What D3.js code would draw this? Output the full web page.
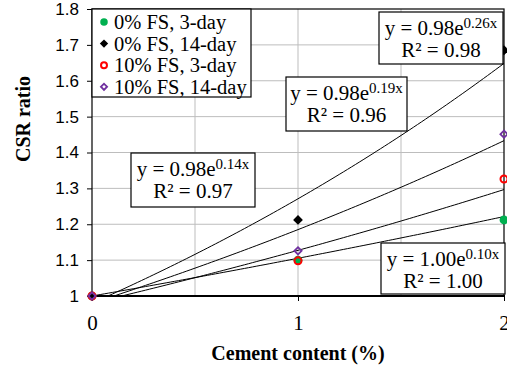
<!DOCTYPE html>
<html>
<head>
<meta charset="utf-8">
<script src="https://cdn.jsdelivr.net/npm/d3@7"></script>
<style>
  html, body { margin: 0; padding: 0; background: #fff; }
  svg { display: block; }
  .serif { font-family: "Liberation Serif", "Times New Roman", Times, "Noto Serif", "DejaVu Serif", serif; }
  .sans { font-family: "Liberation Sans", Arial, Helvetica, sans-serif; }
</style>
</head>
<body>
<svg id="chart" width="507" height="366"></svg>
<script>
// Cement content (%) on the x axis
const cement = [0, 1, 2];

// CSR ratio for each mix / curing time
const seriesNames = ["0% FS, 3-day", "0% FS, 14-day", "10% FS, 3-day", "10% FS, 14-day"];
const fs0_3day  = [1.00, 1.100, 1.212];
const fs0_14day = [1.00, 1.212, 1.685];
const fs10_3day = [1.00, 1.098, 1.326];
const fs10_14day = [1.00, 1.126, 1.451];

// Exponential trendlines y = a·e^(b·x), with the labels printed on the chart
const trendA  = [1.00, 0.98, 0.98, 0.98];
const trendB  = [0.10, 0.26, 0.14, 0.19];
const trendR2 = ["1.00", "0.98", "0.97", "0.96"];

const yTicks = [1, 1.1, 1.2, 1.3, 1.4, 1.5, 1.6, 1.7, 1.8];
const xTicks = [0, 1, 2];
const xGrid = [0.5, 1, 1.5];

const seriesValues = [fs0_3day, fs0_14day, fs10_3day, fs10_14day];

const svg = d3.select("#chart");
const plotL = 92, plotR = 504, plotT = 9, plotB = 296;

const x = d3.scaleLinear().domain([0, 2]).range([plotL, plotR]);
const y = d3.scaleLinear().domain([1, 1.8]).range([plotB, plotT]);

// gridlines
svg.append("g").selectAll("line").data(yTicks.slice(1, -1)).join("line")
  .attr("x1", plotL).attr("x2", plotR)
  .attr("y1", d => y(d)).attr("y2", d => y(d))
  .attr("stroke", "#bdbdbd").attr("stroke-width", 1);
svg.append("g").selectAll("line").data(xGrid).join("line")
  .attr("x1", d => x(d)).attr("x2", d => x(d))
  .attr("y1", plotT).attr("y2", plotB)
  .attr("stroke", "#bdbdbd").attr("stroke-width", 1);

// axes
const yAxis = d3.axisLeft(y).tickValues(yTicks).tickSize(5).tickPadding(8)
  .tickFormat(d => d === 1 ? "1" : d3.format(".1f")(d));
const gy = svg.append("g").attr("transform", `translate(${plotL},0)`).call(yAxis);
gy.attr("font-family", null).attr("font-size", null);
gy.select(".domain").remove();
gy.selectAll("line").attr("stroke", "#000");
gy.selectAll("text").attr("class", "sans").style("font-size", "17px").attr("fill", "#000");

const xAxis = d3.axisBottom(x).tickValues(xTicks).tickSize(5).tickPadding(14)
  .tickFormat(d3.format("d"));
const gx = svg.append("g").attr("transform", `translate(0,${plotB})`).call(xAxis);
gx.attr("font-family", null).attr("font-size", null);
gx.select(".domain").remove();
gx.selectAll("line").attr("stroke", "#000");
gx.selectAll("text").attr("class", "serif").style("font-size", "21px").attr("fill", "#000");

// plot area frame
svg.append("rect").attr("x", plotL).attr("y", plotT)
  .attr("width", plotR - plotL).attr("height", plotB - plotT)
  .attr("fill", "none").attr("stroke", "#000").attr("stroke-width", 1.2);
svg.append("line").attr("x1", plotL).attr("x2", plotR + 1)
  .attr("y1", plotB).attr("y2", plotB).attr("stroke", "#000").attr("stroke-width", 2);

// trendlines, clipped to the plot area
svg.append("clipPath").attr("id", "plotclip").append("rect")
  .attr("x", plotL).attr("y", plotT).attr("width", plotR - plotL).attr("height", plotB - plotT);
const xs = d3.range(0, 2.0001, 0.02);
const line = d3.line().x(d => x(d[0])).y(d => y(d[1]));
const trendG = svg.append("g").attr("clip-path", "url(#plotclip)");
trendA.forEach((a, i) => {
  trendG.append("path")
    .attr("d", line(xs.map(v => [v, a * Math.exp(trendB[i] * v)])))
    .attr("fill", "none").attr("stroke", "#000").attr("stroke-width", 1);
});

// markers: filled dot, filled diamond, open ring, open diamond
const colors = ["#00b050", "#000000", "#ff0000", "#7030a0"];
function drawMarker(g, i, cx, cy, scale = 1) {
  if (i === 0) {
    g.append("circle").attr("cx", cx).attr("cy", cy).attr("r", 4.4 * scale).attr("fill", colors[0]);
  } else if (i === 1) {
    g.append("path").attr("d", d3.symbol(d3.symbolSquare, 48 * scale * scale)())
      .attr("transform", `translate(${cx},${cy}) rotate(45)`).attr("fill", colors[1]);
  } else if (i === 2) {
    g.append("circle").attr("cx", cx).attr("cy", cy).attr("r", 3.5 * scale)
      .attr("fill", "none").attr("stroke", colors[2]).attr("stroke-width", 2);
  } else {
    g.append("path").attr("d", d3.symbol(d3.symbolSquare, 26 * scale * scale)())
      .attr("transform", `translate(${cx},${cy}) rotate(45)`)
      .attr("fill", "none").attr("stroke", colors[3]).attr("stroke-width", 1.8);
  }
}
const markG = svg.append("g");
seriesValues.forEach((vals, i) => {
  vals.forEach((v, j) => drawMarker(markG, i, x(cement[j]), y(v)));
});

// equation labels
const labelBoxes = [
  { i: 0, x0: 381, y0: 243, w: 124, h: 51 },
  { i: 1, x0: 379, y0: 12, w: 124, h: 52 },
  { i: 2, x0: 131, y0: 153, w: 124, h: 54 },
  { i: 3, x0: 286, y0: 77, w: 121, h: 54 }
];
labelBoxes.forEach(b => {
  const g = svg.append("g");
  g.append("rect").attr("x", b.x0).attr("y", b.y0).attr("width", b.w).attr("height", b.h)
    .attr("fill", "#fff").attr("stroke", "#000").attr("stroke-width", 1.2);
  const cx = b.x0 + b.w / 2;
  const t1 = g.append("text").attr("class", "serif").attr("x", cx).attr("y", b.y0 + 23)
    .attr("text-anchor", "middle").style("font-size", "21px").attr("fill", "#000");
  t1.append("tspan").text(`y = ${d3.format(".2f")(trendA[b.i])}e`);
  t1.append("tspan").attr("dy", -7).style("font-size", "15px").text(`${d3.format(".2f")(trendB[b.i])}x`);
  g.append("text").attr("class", "serif").attr("x", cx).attr("y", b.y0 + 45)
    .attr("text-anchor", "middle").style("font-size", "21px").attr("fill", "#000")
    .text(`R² = ${trendR2[b.i]}`);
});

// legend
const lg = svg.append("g");
lg.append("rect").attr("x", plotL).attr("y", plotT).attr("width", 159).attr("height", 88)
  .attr("fill", "#fff").attr("stroke", "#000").attr("stroke-width", 1.2);
seriesNames.forEach((name, i) => {
  const ry = 22 + i * 21.6;
  drawMarker(lg, i, 104, ry, 0.85);
  lg.append("text").attr("class", "serif").attr("x", 114).attr("y", ry + 7)
    .style("font-size", "20.5px").attr("fill", "#000").text(name);
});

// axis titles
svg.append("text").attr("class", "serif").attr("x", 298).attr("y", 360).attr("text-anchor", "middle")
  .style("font-weight", "bold").style("font-size", "20px").attr("fill", "#000")
  .text("Cement content (%)");
svg.append("text").attr("class", "serif").attr("transform", "translate(30,119) rotate(-90)")
  .attr("text-anchor", "middle")
  .style("font-weight", "bold").style("font-size", "20px").attr("fill", "#000")
  .text("CSR ratio");
</script>
</body>
</html>
